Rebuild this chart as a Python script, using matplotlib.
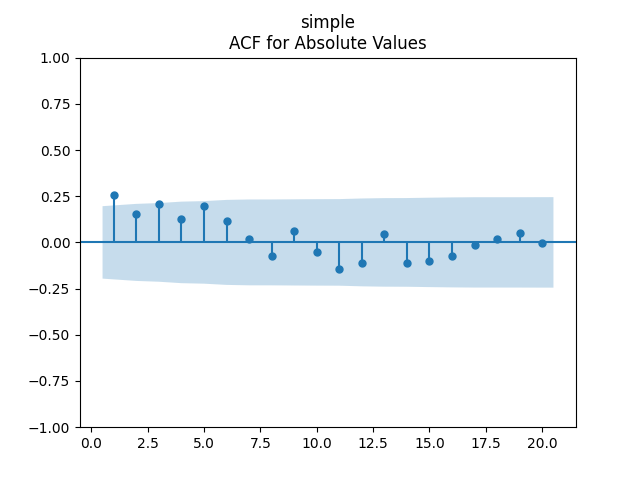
import numpy as np
import matplotlib
matplotlib.use('Agg')
import matplotlib.pyplot as plt

# autocorrelation of absolute values, lags 1..20
lags = np.arange(1, 21)
acf_vals = [0.257, 0.154, 0.209, 0.127, 0.198, 0.117, 0.019, -0.073, 0.062,
            -0.051, -0.144, -0.111, 0.046, -0.111, -0.100, -0.073, -0.014,
            0.019, 0.051, -0.003]
# half width of the 95% confidence band at each lag
band = [0.196, 0.2085, 0.2129, 0.2206, 0.2234, 0.2300, 0.2323, 0.2324,
        0.2332, 0.2339, 0.2343, 0.2377, 0.2396, 0.2400, 0.2419, 0.2435,
        0.2444, 0.2444, 0.2445, 0.2449]

fig, ax = plt.subplots(figsize=(6.4, 4.8), dpi=100)
ax.vlines(lags, [0], acf_vals)
ax.axhline()
ax.margins(0.05)
ax.plot(lags, acf_vals, marker='o', markersize=5, linestyle='None')
ax.set_title('simple\nACF for Absolute Values')

band_x = lags.astype(float)
band_x[0] -= 0.5
band_x[-1] += 0.5
band = np.array(band)
ax.fill_between(band_x, -band, band, alpha=0.25)
ax.set_ylim(-1, 1)

fig.savefig('out.png')
